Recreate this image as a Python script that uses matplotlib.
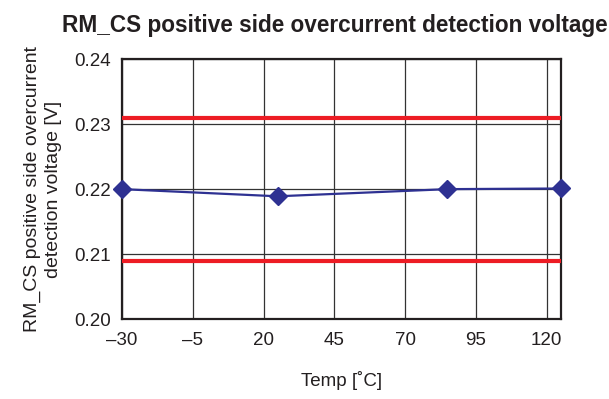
import matplotlib.pyplot as plt

plt.rcParams['font.family'] = ['Liberation Sans', 'DejaVu Sans']

temps = [-30, 25, 85, 125]
voltage = [0.2200, 0.2189, 0.2200, 0.2201]
upper_limit = 0.231
lower_limit = 0.209

x_ticks = [-30, -5, 20, 45, 70, 95, 120]
x_tick_labels = ['–30', '–5', '20', '45', '70', '95', '120']
y_ticks = [0.20, 0.21, 0.22, 0.23, 0.24]
y_tick_labels = ['0.20', '0.21', '0.22', '0.23', '0.24']

fig = plt.figure(figsize=(6.09, 3.99), dpi=100)
ax = fig.add_axes([0.2003, 0.2005, 0.7204, 0.6509])

ax.set_xlim(-30, 125)
ax.set_ylim(0.20, 0.24)
ax.set_xticks(x_ticks)
ax.set_xticklabels(x_tick_labels)
ax.set_yticks(y_ticks)
ax.set_yticklabels(y_tick_labels)
ax.tick_params(length=0, labelsize=13.5, colors='#231f20')
ax.tick_params(axis='x', pad=9)
ax.tick_params(axis='y', pad=8)

ax.grid(True, color='#333333', linewidth=0.9)
ax.set_axisbelow(True)

ax.axhline(upper_limit, color='#ed1c24', linewidth=3, zorder=3)
ax.axhline(lower_limit, color='#ed1c24', linewidth=3, zorder=3)

ax.plot(temps, voltage, color='#2e3192', linewidth=1.6, marker='D',
        markersize=9, markeredgecolor='#2e3192', clip_on=False, zorder=4)

for s in ax.spines.values():
    s.set_linewidth(1.6)
    s.set_color('#231f20')

ax.set_xlabel('Temp [˚C]', fontsize=13.5, labelpad=16, color='#231f20')
ax.set_ylabel('RM_CS positive side overcurrent\ndetection voltage [V]',
              fontsize=14, labelpad=9, color='#231f20', linespacing=1.25)
fig.text(335 / 609, 1 - 32 / 399, 'RM_CS positive side overcurrent detection voltage',
         ha='center', va='baseline', fontsize=16.3, fontweight='bold', color='#231f20')

fig.savefig('out.png', dpi=100)
